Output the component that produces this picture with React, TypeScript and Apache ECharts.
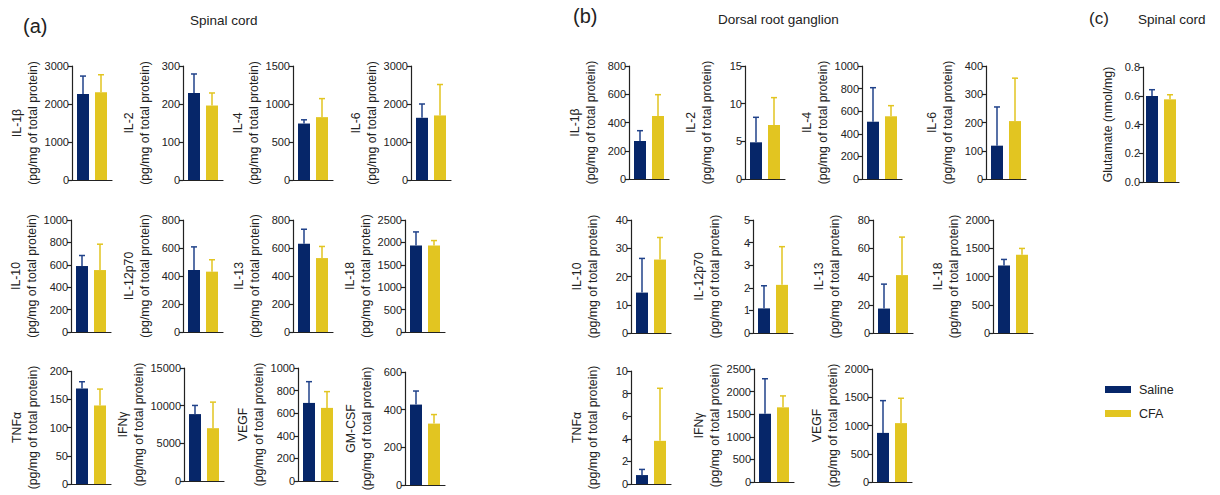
import React, { useEffect, useRef } from "react";
import * as echarts from "echarts";

// ---------- data ----------
const groups = ["Saline", "CFA"];

// (a) Spinal cord cytokines
const scNames = ["IL-1β", "IL-2", "IL-4", "IL-6", "IL-10", "IL-12p70", "IL-13", "IL-18", "TNFα", "IFNγ", "VEGF", "GM-CSF"];
const scSaline = [2265, 229, 743, 1637, 589, 443, 630, 1930, 169, 8880, 691, 427];
const scSalineErr = [470, 50, 49, 363, 94, 165, 104, 304, 12, 1150, 188, 72];
const scCFA = [2310, 196, 827, 1699, 553, 431, 528, 1930, 139, 7010, 647, 326];
const scCFAErr = [460, 33, 244, 814, 231, 85, 83, 111, 29, 3460, 144, 48];
const scMax = [3000, 300, 1500, 3000, 1000, 800, 800, 2500, 200, 15000, 1000, 600];
const scStep = [1000, 100, 500, 1000, 200, 200, 200, 500, 50, 5000, 200, 200];

// (b) Dorsal root ganglion cytokines
const drgNames = ["IL-1β", "IL-2", "IL-4", "IL-6", "IL-10", "IL-12p70", "IL-13", "IL-18", "TNFα", "IFNγ", "VEGF"];
const drgSaline = [269, 4.87, 507, 118, 14.3, 1.09, 17.3, 1195, 0.79, 1510, 869];
const drgSalineErr = [73, 3.32, 301, 137, 12.1, 1.0, 17.3, 107, 0.5, 774, 571];
const drgCFA = [446, 7.17, 555, 205, 26.0, 2.13, 41.0, 1385, 3.82, 1652, 1042];
const drgCFAErr = [151, 3.63, 94, 152, 7.8, 1.69, 26.9, 112, 4.65, 253, 440];
const drgMax = [800, 15, 1000, 400, 40, 5, 80, 2000, 10, 2500, 2000];
const drgStep = [200, 5, 200, 100, 10, 1, 20, 500, 2, 500, 500];

// (c) Spinal cord glutamate
const gluName = "Glutamate (nmol/mg)";
const gluSaline = 0.598;
const gluSalineErr = 0.044;
const gluCFA = 0.575;
const gluCFAErr = 0.032;
const gluMax = 0.8;
const gluStep = 0.2;

// ---------- layout ----------
const scLayout = [
  [72, 66, 114], [183, 66, 114], [293, 66, 114], [411, 66, 114],
  [71, 220, 112], [183, 220, 112], [293, 220, 112], [405, 220, 112],
  [71, 371, 113], [184, 368, 113], [298, 368, 113], [405, 372, 113],
];
const drgLayout = [
  [629, 66, 113], [745, 66, 113], [862, 66, 113], [986, 66, 113],
  [631, 220, 113], [753, 220, 113], [873, 220, 113], [993, 220, 113],
  [631, 371, 113], [754, 369, 113], [872, 369, 113],
];
const gluLayout = [1143, 67, 115];

const NAVY = "#062669";
const NAVY_ERR = "#20428a";
const YELLOW = "#e2c521";
const INK = "#222222";
const FONT = "'Liberation Sans', Arial, Helvetica, sans-serif";
const UNIT = "(pg/mg of total protein)";

type Panel = {
  name: string; sal: number; salErr: number; cfa: number; cfaErr: number;
  max: number; step: number; left: number; top: number; height: number; width: number;
  gap: number; fmt: (v: number) => string;
};

function renderErr(params: any, api: any) {
  const base = api.coord([api.value(0), api.value(1)]);
  const top = api.coord([api.value(0), api.value(2)]);
  const side = api.value(3);
  const x = base[0] + side * 9;
  const color = side < 0 ? NAVY_ERR : YELLOW;
  return {
    type: "group",
    children: [
      { type: "line", shape: { x1: x, y1: base[1], x2: x, y2: top[1] }, style: { stroke: color, lineWidth: 1.5 } },
      { type: "line", shape: { x1: x - 3, y1: top[1], x2: x + 3, y2: top[1] }, style: { stroke: color, lineWidth: 1.5 } },
    ],
  };
}

const plain = (v: number) => String(v);

function buildOption() {
  const panels: Panel[] = [];
  scNames.forEach((n, i) => {
    const [l, t, h] = scLayout[i];
    panels.push({ name: `${n}\n${UNIT}`, sal: scSaline[i], salErr: scSalineErr[i], cfa: scCFA[i], cfaErr: scCFAErr[i], max: scMax[i], step: scStep[i], left: l, top: t, height: h, width: 40, gap: 30, fmt: plain });
  });
  drgNames.forEach((n, i) => {
    const [l, t, h] = drgLayout[i];
    panels.push({ name: `${n}\n${UNIT}`, sal: drgSaline[i], salErr: drgSalineErr[i], cfa: drgCFA[i], cfaErr: drgCFAErr[i], max: drgMax[i], step: drgStep[i], left: l, top: t, height: h, width: 40, gap: 30, fmt: plain });
  });
  panels.push({ name: gluName, sal: gluSaline, salErr: gluSalineErr, cfa: gluCFA, cfaErr: gluCFAErr, max: gluMax, step: gluStep, left: gluLayout[0], top: gluLayout[1], height: gluLayout[2], width: 36, gap: 27, fmt: (v) => v.toFixed(1) });

  const grid: any[] = [];
  const xAxis: any[] = [];
  const yAxis: any[] = [];
  const series: any[] = [];
  panels.forEach((p, i) => {
    grid.push({ left: p.left, top: p.top, width: p.width, height: p.height });
    xAxis.push({
      type: "category", gridIndex: i, data: [""],
      axisLine: { lineStyle: { color: INK, width: 1.2 } },
      axisTick: { show: false }, axisLabel: { show: false },
    });
    yAxis.push({
      type: "value", gridIndex: i, min: 0, max: p.max, interval: p.step,
      name: p.name, nameLocation: "middle", nameRotate: 90, nameGap: p.gap,
      nameTextStyle: { fontSize: 12.3, lineHeight: 16, color: INK, fontFamily: FONT },
      axisLine: { show: true, lineStyle: { color: INK, width: 1.2 } },
      axisTick: { show: true, length: 4, lineStyle: { color: INK, width: 1.2 } },
      axisLabel: { fontSize: 11, margin: 3, color: INK, fontFamily: FONT, formatter: p.fmt },
      splitLine: { show: false },
    });
    series.push({
      type: "bar", name: groups[0], xAxisIndex: i, yAxisIndex: i, data: [p.sal],
      barWidth: 12, barGap: "50%", itemStyle: { color: NAVY },
    });
    series.push({
      type: "bar", name: groups[1], xAxisIndex: i, yAxisIndex: i, data: [p.cfa],
      barWidth: 12, barGap: "50%", itemStyle: { color: YELLOW },
    });
    series.push({
      type: "custom", xAxisIndex: i, yAxisIndex: i, silent: true,
      data: [[0, p.sal, p.sal + p.salErr, -1], [0, p.cfa, p.cfa + p.cfaErr, 1]],
      encode: { x: 0, y: 2 }, renderItem: renderErr, z: 3,
    });
  });

  const txt = (text: string, left: number, top: number, size: number) => ({
    type: "text", left, top,
    style: { text, fontSize: size, fontFamily: FONT, fill: INK },
  });

  return {
    animation: false,
    backgroundColor: "#ffffff",
    grid, xAxis, yAxis, series,
    legend: {
      data: groups, orient: "vertical", left: 1100, top: 378,
      itemWidth: 26, itemHeight: 7, itemGap: 11, icon: "rect",
      textStyle: { fontSize: 12.5, color: INK, fontFamily: FONT, padding: [0, 0, 0, 3] },
      selectedMode: false,
    },
    graphic: [
      txt("(a)", 23, 16, 20),
      txt("Spinal cord", 190, 13, 13.5),
      txt("(b)", 573, 6, 20),
      txt("Dorsal root ganglion", 718, 12, 13.5),
      txt("(c)", 1089, 10, 17),
      txt("Spinal cord", 1138, 12, 13.5),
    ],
  };
}

export default function App() {
  const ref = useRef<HTMLDivElement>(null);
  useEffect(() => {
    document.body.style.margin = "0";
    const chart = echarts.init(ref.current!, null, { renderer: "svg" });
    chart.setOption(buildOption() as any);
    return () => chart.dispose();
  }, []);
  return <div ref={ref} style={{ width: 1220, height: 495 }} />;
}
